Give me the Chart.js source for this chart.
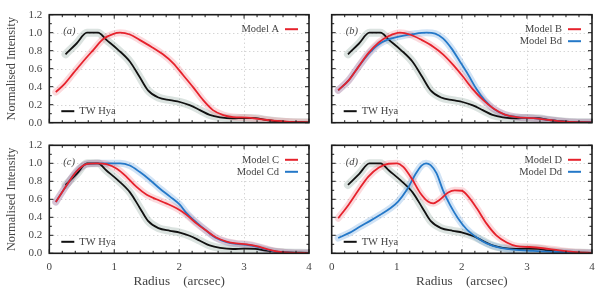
<!DOCTYPE html>
<html>
<head>
<meta charset="utf-8">
<script src="https://cdn.jsdelivr.net/npm/chart.js@4.4.1/dist/chart.umd.min.js"></script>
<style>
  body { margin: 0; background: #fff; }
  #wrap { position: relative; width: 605px; height: 299px; overflow: hidden; }
  canvas { position: absolute; }
</style>
</head>
<body>
<div id="wrap">
  <canvas id="cA" width="312" height="130" style="left:0;top:0"></canvas>
  <canvas id="cB" width="293" height="130" style="left:312px;top:0"></canvas>
  <canvas id="cC" width="312" height="169" style="left:0;top:130px"></canvas>
  <canvas id="cD" width="293" height="169" style="left:312px;top:130px"></canvas>
</div>
<script>
// observed profile (same in every panel)
const twHyaR = [0.25, 0.42, 0.58, 0.75, 0.88, 1.06, 1.24, 1.39, 1.52, 1.68, 1.86, 2.01, 2.16, 2.32, 2.47, 2.63, 2.83, 3.0, 3.17, 3.34, 3.6, 4.0];
const twHyaI = [0.76, 0.88, 1.0, 1.0, 0.92, 0.81, 0.68, 0.51, 0.36, 0.28, 0.25, 0.23, 0.195, 0.14, 0.087, 0.06, 0.048, 0.052, 0.05, 0.03, 0.012, 0.004];

// models
const modelAR = [0.1, 0.22, 0.37, 0.52, 0.68, 0.83, 0.98, 1.09, 1.24, 1.39, 1.57, 1.75, 1.91, 2.06, 2.22, 2.37, 2.52, 2.68, 2.83, 3.04, 3.24, 3.45, 3.7, 4.0];
const modelAI = [0.34, 0.42, 0.55, 0.68, 0.81, 0.93, 0.985, 1.0, 0.98, 0.92, 0.845, 0.76, 0.66, 0.53, 0.39, 0.25, 0.14, 0.085, 0.063, 0.056, 0.04, 0.022, 0.01, 0.004];

const modelBR = [0.1, 0.26, 0.41, 0.56, 0.72, 0.87, 1.05, 1.2, 1.38, 1.56, 1.71, 1.87, 2.02, 2.17, 2.33, 2.48, 2.66, 2.84, 3.1, 3.35, 3.6, 4.0];
const modelBI = [0.36, 0.47, 0.62, 0.77, 0.89, 0.96, 1.0, 0.98, 0.92, 0.845, 0.76, 0.64, 0.51, 0.37, 0.25, 0.16, 0.09, 0.063, 0.05, 0.03, 0.011, 0.004];

const modelBdR = [0.1, 0.26, 0.41, 0.56, 0.72, 0.87, 1.05, 1.25, 1.46, 1.59, 1.71, 1.84, 1.97, 2.1, 2.22, 2.35, 2.5, 2.66, 2.84, 3.1, 3.35, 3.6, 4.0];
const modelBdI = [0.36, 0.47, 0.62, 0.76, 0.87, 0.925, 0.96, 0.985, 1.0, 0.99, 0.937, 0.826, 0.68, 0.53, 0.38, 0.25, 0.148, 0.09, 0.063, 0.05, 0.03, 0.011, 0.004];

const modelCR = [0.1, 0.27, 0.42, 0.57, 0.73, 0.88, 1.04, 1.19, 1.34, 1.5, 1.65, 1.8, 1.96, 2.11, 2.27, 2.42, 2.57, 2.73, 2.88, 3.04, 3.19, 3.34, 3.5, 3.7, 4.0];
const modelCI = [0.57, 0.76, 0.91, 0.99, 1.0, 0.99, 0.94, 0.85, 0.74, 0.65, 0.6, 0.555, 0.5, 0.43, 0.33, 0.25, 0.175, 0.13, 0.11, 0.1, 0.08, 0.048, 0.02, 0.007, 0.003];

const modelCdR = [0.1, 0.27, 0.42, 0.57, 0.73, 0.88, 1.09, 1.24, 1.39, 1.55, 1.7, 1.86, 2.01, 2.11, 2.27, 2.42, 2.57, 2.73, 2.88, 3.04, 3.19, 3.34, 3.5, 3.7, 4.0];
const modelCdI = [0.57, 0.76, 0.91, 0.99, 1.0, 1.0, 1.0, 0.975, 0.905, 0.815, 0.72, 0.63, 0.54, 0.45, 0.34, 0.25, 0.17, 0.125, 0.105, 0.095, 0.075, 0.045, 0.018, 0.006, 0.002];

const modelDR = [0.1, 0.26, 0.41, 0.56, 0.72, 0.87, 1.0, 1.1, 1.23, 1.36, 1.48, 1.56, 1.66, 1.79, 1.89, 2.0, 2.1, 2.23, 2.38, 2.53, 2.69, 2.84, 3.04, 3.25, 3.5, 3.8, 4.0];
const modelDI = [0.39, 0.54, 0.7, 0.85, 0.95, 0.995, 1.0, 0.96, 0.83, 0.67, 0.575, 0.555, 0.595, 0.675, 0.7, 0.695, 0.63, 0.5, 0.33, 0.2, 0.12, 0.08, 0.07, 0.056, 0.033, 0.011, 0.004];

const modelDdR = [0.1, 0.28, 0.43, 0.59, 0.74, 0.9, 1.02, 1.15, 1.28, 1.38, 1.45, 1.52, 1.61, 1.71, 1.82, 1.94, 2.07, 2.23, 2.38, 2.58, 2.79, 3.09, 3.4, 3.8, 4.0];
const modelDdI = [0.17, 0.23, 0.295, 0.36, 0.425, 0.5, 0.575, 0.7, 0.87, 0.975, 1.0, 0.98, 0.89, 0.7, 0.535, 0.39, 0.27, 0.175, 0.11, 0.063, 0.04, 0.026, 0.015, 0.004, 0.002];

const xTicks = [0, 1, 2, 3, 4];
const yTicks = [0.0, 0.2, 0.4, 0.6, 0.8, 1.0, 1.2];

const FONT = '"Liberation Serif", "DejaVu Serif", serif';
const TXT = '#444';
const RED = '#e6222c', RED_BAND = 'rgba(236, 70, 85, 0.2)';
const BLUE = '#2478c8', BLUE_BAND = 'rgba(70, 145, 215, 0.25)';
const BLACK = '#111', BLACK_BAND = 'rgba(125, 155, 145, 0.28)';

function pts(r, v) {
    return r.map((x, k) => ({x: x, y: v[k]}));
}

// line + wide translucent copy underneath for the uncertainty band
function curve(r, v, color, band, order, bandWidth) {
    const d = pts(r, v);
    return [
        {data: d, borderColor: color, borderWidth: 1.8, pointRadius: 0,
         cubicInterpolationMode: 'monotone', order: order},
        {data: d, borderColor: band, borderWidth: bandWidth, pointRadius: 0,
         cubicInterpolationMode: 'monotone', order: 10 + order, borderCapStyle: 'round'}
    ];
}

function deco(cfg) {
    return {
        id: 'deco',
        beforeDatasetsDraw(chart) {
            const ctx = chart.ctx, ca = chart.chartArea;
            const xs = chart.scales.x, ys = chart.scales.y;
            ctx.save();
            ctx.strokeStyle = '#c4c4c4';
            ctx.lineWidth = 1;
            ctx.setLineDash([1, 3]);
            for (let k = 1; k <= 5; k++) {
                const y = Math.round(ys.getPixelForValue(k * 0.2)) + 0.5;
                ctx.beginPath(); ctx.moveTo(ca.left, y); ctx.lineTo(ca.right, y); ctx.stroke();
            }
            for (let k = 1; k <= 3; k++) {
                const x = Math.round(xs.getPixelForValue(k)) + 0.5;
                ctx.beginPath(); ctx.moveTo(x, ca.top); ctx.lineTo(x, ca.bottom); ctx.stroke();
            }
            ctx.restore();
        },
        afterDatasetsDraw(chart) {
            const ctx = chart.ctx, ca = chart.chartArea;
            const xs = chart.scales.x, ys = chart.scales.y;
            ctx.save();
            ctx.strokeStyle = '#1c1c1c';
            ctx.lineWidth = 1;
            ctx.beginPath();
            for (let k = 0; k <= 20; k++) {
                const x = xs.getPixelForValue(k * 0.2);
                const len = k % 5 === 0 ? 4 : 2.5;
                ctx.moveTo(x, ca.bottom); ctx.lineTo(x, ca.bottom - len);
                ctx.moveTo(x, ca.top); ctx.lineTo(x, ca.top + len);
            }
            for (let k = 0; k <= 12; k++) {
                const y = ys.getPixelForValue(k * 0.1);
                const len = k % 2 === 0 ? 4 : 2.5;
                ctx.moveTo(ca.left, y); ctx.lineTo(ca.left + len, y);
                ctx.moveTo(ca.right, y); ctx.lineTo(ca.right - len, y);
            }
            ctx.stroke();
            ctx.lineWidth = 1.6;
            ctx.strokeRect(ca.left, ca.top, ca.right - ca.left, ca.bottom - ca.top);

            ctx.fillStyle = TXT;
            ctx.textBaseline = 'middle';

            // tick labels
            ctx.font = '11px ' + FONT;
            if (cfg.yTitle) {
                ctx.textAlign = 'right';
                yTicks.forEach(v => ctx.fillText(v.toFixed(1), ca.left - 7, ys.getPixelForValue(v)));
            }
            if (cfg.xTitle) {
                ctx.textAlign = 'center';
                xTicks.forEach(v => ctx.fillText(String(v), xs.getPixelForValue(v), ca.bottom + 14));
            }

            // panel label
            ctx.font = 'italic 10.5px ' + FONT;
            ctx.textAlign = 'left';
            ctx.fillText(cfg.label, ca.left + 14, ca.top + 17);

            // legends
            ctx.font = '10.5px ' + FONT;
            cfg.legend.forEach((item, k) => {
                const y = ca.top + 14.5 + k * 12;
                ctx.fillStyle = TXT;
                ctx.textAlign = 'right';
                ctx.fillText(item.text, ca.right - 30, y);
                ctx.strokeStyle = item.color;
                ctx.lineWidth = 2;
                ctx.beginPath(); ctx.moveTo(ca.right - 24, y); ctx.lineTo(ca.right - 11, y); ctx.stroke();
            });
            const ty = ca.bottom - 11.5;
            ctx.strokeStyle = BLACK;
            ctx.lineWidth = 2;
            ctx.beginPath(); ctx.moveTo(ca.left + 12, ty); ctx.lineTo(ca.left + 25, ty); ctx.stroke();
            ctx.fillStyle = TXT;
            ctx.textAlign = 'left';
            ctx.fillText('TW Hya', ca.left + 30, ty);

            // axis titles
            if (cfg.yTitle) {
                ctx.save();
                ctx.font = '12.3px ' + FONT;
                ctx.textAlign = 'center';
                ctx.translate(12, (ca.top + ca.bottom) / 2);
                ctx.rotate(-Math.PI / 2);
                ctx.fillText('Normalised Intensity', 0, 0);
                ctx.restore();
            }
            if (cfg.xTitle) {
                ctx.font = '13.2px ' + FONT;
                ctx.textAlign = 'center';
                ctx.fillText('Radius\u2003(arcsec)', (ca.left + ca.right) / 2, 152);
            }
            ctx.restore();
        }
    };
}

function makePanel(id, datasets, cfg) {
    const left = cfg.yTitle;
    const bottom = cfg.xTitle;
    new Chart(document.getElementById(id), {
        type: 'line',
        data: {datasets: datasets},
        options: {
            responsive: false,
            animation: false,
            events: [],
            layout: {padding: {top: cfg.top, right: left ? 3 : 13, bottom: 0, left: 0}},
            plugins: {legend: {display: false}, tooltip: {enabled: false}},
            scales: {
                x: {
                    type: 'linear', min: 0, max: 4,
                    grid: {display: false},
                    border: {display: false},
                    ticks: {display: false},
                    afterFit: s => {
                        s.height = bottom ? 45.7 : 7.3;
                        s.paddingLeft = s.paddingRight = 0;
                    }
                },
                y: {
                    type: 'linear', min: 0, max: 1.2,
                    grid: {display: false},
                    border: {display: false},
                    ticks: {display: false},
                    afterFit: s => {
                        s.width = left ? 49.3 : 19.7;
                        s.paddingTop = s.paddingBottom = 0;
                    }
                }
            }
        },
        plugins: [deco(cfg)]
    });
}

const tw = curve(twHyaR, twHyaI, BLACK, BLACK_BAND, 3, 8);

makePanel('cA', [
    ...curve(modelAR, modelAI, RED, RED_BAND, 1, 7), ...tw
], {label: '(a)', legend: [{text: 'Model A', color: RED}], yTitle: true, xTitle: false, top: 14.7});

makePanel('cB', [
    ...curve(modelBR, modelBI, RED, RED_BAND, 1, 7),
    ...curve(modelBdR, modelBdI, BLUE, BLUE_BAND, 2, 7), ...tw
], {label: '(b)', legend: [{text: 'Model B', color: RED}, {text: 'Model Bd', color: BLUE}],
    yTitle: false, xTitle: false, top: 14.7});

makePanel('cC', [
    ...curve(modelCR, modelCI, RED, RED_BAND, 1, 7),
    ...curve(modelCdR, modelCdI, BLUE, BLUE_BAND, 2, 7), ...tw
], {label: '(c)', legend: [{text: 'Model C', color: RED}, {text: 'Model Cd', color: BLUE}],
    yTitle: true, xTitle: true, top: 15.3});

makePanel('cD', [
    ...curve(modelDR, modelDI, RED, RED_BAND, 1, 7),
    ...curve(modelDdR, modelDdI, BLUE, BLUE_BAND, 2, 7), ...tw
], {label: '(d)', legend: [{text: 'Model D', color: RED}, {text: 'Model Dd', color: BLUE}],
    yTitle: false, xTitle: true, top: 15.3});
</script>
</body>
</html>
